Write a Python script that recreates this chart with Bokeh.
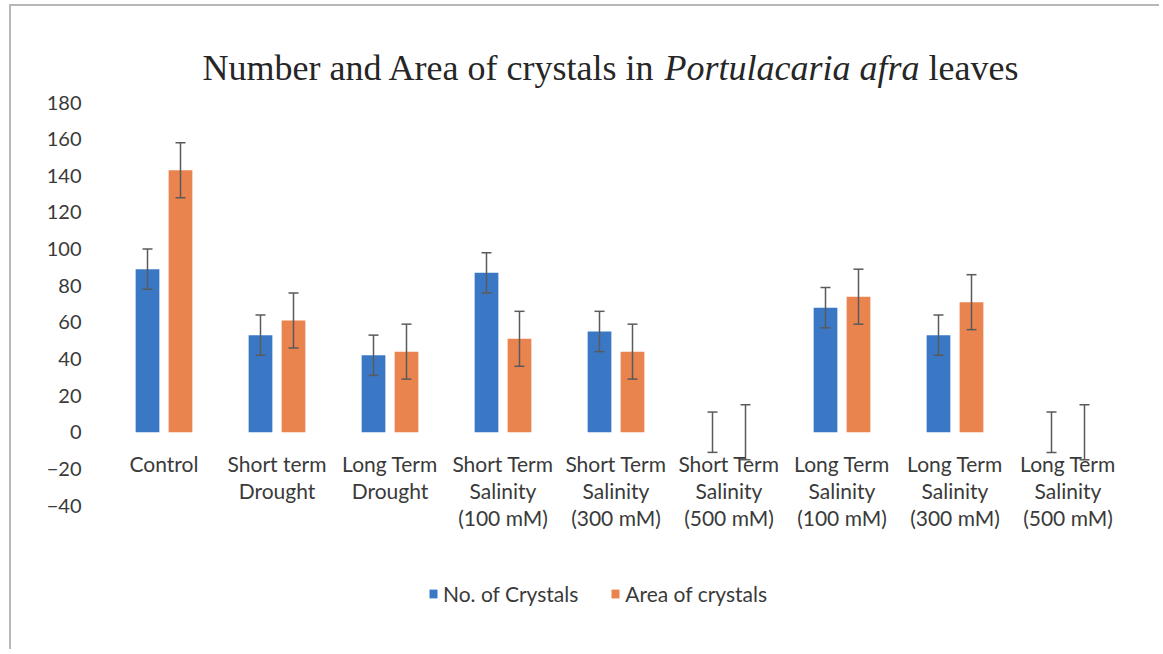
from bokeh.plotting import figure
from bokeh.models import (ColumnDataSource, FactorRange, Range1d, FixedTicker, Whisker,
                          TeeHead, Legend, LegendItem, Label, LabelSet)
from bokeh.core.properties import value
from bokeh.transform import dodge
from bokeh.embed import file_html
from bokeh.resources import INLINE

# ---- data ----
categories = ["Control", "Short term\nDrought", "Long Term\nDrought",
              "Short Term\nSalinity\n(100 mM)", "Short Term\nSalinity\n(300 mM)",
              "Short Term\nSalinity\n(500 mM)", "Long Term\nSalinity\n(100 mM)",
              "Long Term\nSalinity\n(300 mM)", "Long Term\nSalinity\n(500 mM)"]
no_crystals = [89, 53, 42, 87, 55, 0, 68, 53, 0]
no_crystals_err = [11, 11, 11, 11, 11, 11, 11, 11, 11]
area_crystals = [143, 61, 44, 51, 44, 0, 74, 71, 0]
area_crystals_err = [15, 15, 15, 15, 15, 15, 15, 15, 15]
y_ticks = [-40, -20, 0, 20, 40, 60, 80, 100, 120, 140, 160, 180]
series_names = ["No. of Crystals", "Area of crystals"]
title_parts = ["Number and Area of crystals in", "Portulacaria afra", "leaves"]

BLUE = "#3A78C6"
ORANGE = "#E9844F"
TXT = "#3a3a3a"
FONT = "Lato"

split = [c.split("\n") + [""] * (3 - len(c.split("\n"))) for c in categories]
src = ColumnDataSource(dict(
    cat=categories,
    n=no_crystals,
    n_lo=[v - e for v, e in zip(no_crystals, no_crystals_err)],
    n_hi=[v + e for v, e in zip(no_crystals, no_crystals_err)],
    a=area_crystals,
    a_lo=[v - e for v, e in zip(area_crystals, area_crystals_err)],
    a_hi=[v + e for v, e in zip(area_crystals, area_crystals_err)],
    zero=[0] * len(categories),
    line0=[s[0] for s in split],
    line1=[s[1] for s in split],
    line2=[s[2] for s in split],
))

# ---- layout (page pixels) ----
W, H = 1150, 645
ORG_X, ORG_Y = 11, 5            # page position of figure content (after margin+border)
FRAME_L, FRAME_R = 107, 1124    # page x of the plot frame
AX_TOP, AX_BOT = 101, 504       # page y of the axis extent (180 .. -40)
k = (AX_BOT - AX_TOP) / (y_ticks[-1] - y_ticks[0])
frame_top = ORG_Y
frame_bot = ORG_Y + H
y_end = y_ticks[-1] + (AX_TOP - frame_top) / k
y_start = y_ticks[0] - (frame_bot - AX_BOT) / k

p = figure(width=W, height=H, x_range=FactorRange(*categories, range_padding=0),
           y_range=Range1d(y_start, y_end),
           x_axis_location=None, output_backend="svg", toolbar_location=None,
           min_border_left=FRAME_L - ORG_X, min_border_right=W - (FRAME_R - ORG_X),
           min_border_top=0, min_border_bottom=0)
p.styles = {"border-top": "2px solid #b8b8b8", "border-left": "2px solid #b8b8b8",
            "margin-left": "9px", "margin-top": "4px"}
p.outline_line_color = None
p.grid.visible = False
p.background_fill_color = "white"

p.yaxis.ticker = FixedTicker(ticks=y_ticks)
p.yaxis.axis_line_color = None
p.yaxis.major_tick_line_color = None
p.yaxis.minor_tick_line_color = None
p.yaxis.major_label_standoff = 20
p.yaxis.major_label_text_font = FONT
p.yaxis.major_label_text_font_size = "20px"
p.yaxis.major_label_text_color = TXT

off = 0.146
bw = 0.21
r1 = p.vbar(x=dodge("cat", -off, range=p.x_range), top="n", width=bw, source=src,
            fill_color=BLUE, line_color=None)
r2 = p.vbar(x=dodge("cat", off, range=p.x_range), top="a", width=bw, source=src,
            fill_color=ORANGE, line_color=None)

for o, lo, hi in [(-off, "n_lo", "n_hi"), (off, "a_lo", "a_hi")]:
    w = Whisker(base=dodge("cat", o, range=p.x_range), lower=lo, upper=hi, source=src,
                line_color="#5a5a5a", line_width=1.5, level="annotation",
                upper_head=TeeHead(size=10, line_color="#5a5a5a", line_width=1.5),
                lower_head=TeeHead(size=10, line_color="#5a5a5a", line_width=1.5))
    p.add_layout(w)

for i, col in enumerate(["line0", "line1", "line2"]):
    p.add_layout(LabelSet(x="cat", y="zero", text=col, source=src, y_offset=-19 - 27 * i,
                          text_align="center", text_baseline="top", text_font=value(FONT),
                          text_font_size="21px", text_color=TXT))

LEG_X, LEG_CY = 428, 595
legend = Legend(items=[LegendItem(label=series_names[0], renderers=[r1]),
                       LegendItem(label=series_names[1], renderers=[r2])],
                orientation="horizontal",
                location=(LEG_X - FRAME_L, frame_bot - (LEG_CY + 10)),
                padding=0, margin=0, spacing=32, label_standoff=5,
                glyph_width=10, glyph_height=11, label_height=20,
                label_text_font=FONT, label_text_font_size="21px", label_text_color=TXT,
                border_line_color=None, background_fill_alpha=0)
p.add_layout(legend, "center")

# title pieced from three labels (regular / italic / regular)
F = 36
w_regular = 12.58 * F   # advance of "Number and Area of crystals in"
w_space = 0.25 * F
w_italic = 7.084 * F
w_leaves = 2.499 * F
total = w_regular + w_space + w_italic + w_space + w_leaves
cx = 610 - FRAME_L
x0 = cx - total / 2
ty = frame_bot - 66
styles = ["normal", "italic", "normal"]
xs = [x0, x0 + w_regular + w_space, x0 + w_regular + w_space + w_italic + w_space]
for t, s, x in zip(title_parts, styles, xs):
    p.add_layout(Label(x=x, y=ty, x_units="screen", y_units="screen", text=t,
                       text_font="Liberation Serif", text_font_size=f"{F}px",
                       text_font_style=s, text_color="#262626", text_align="left",
                       text_baseline="alphabetic"))

open("out.html", "w").write(file_html(p, INLINE))
